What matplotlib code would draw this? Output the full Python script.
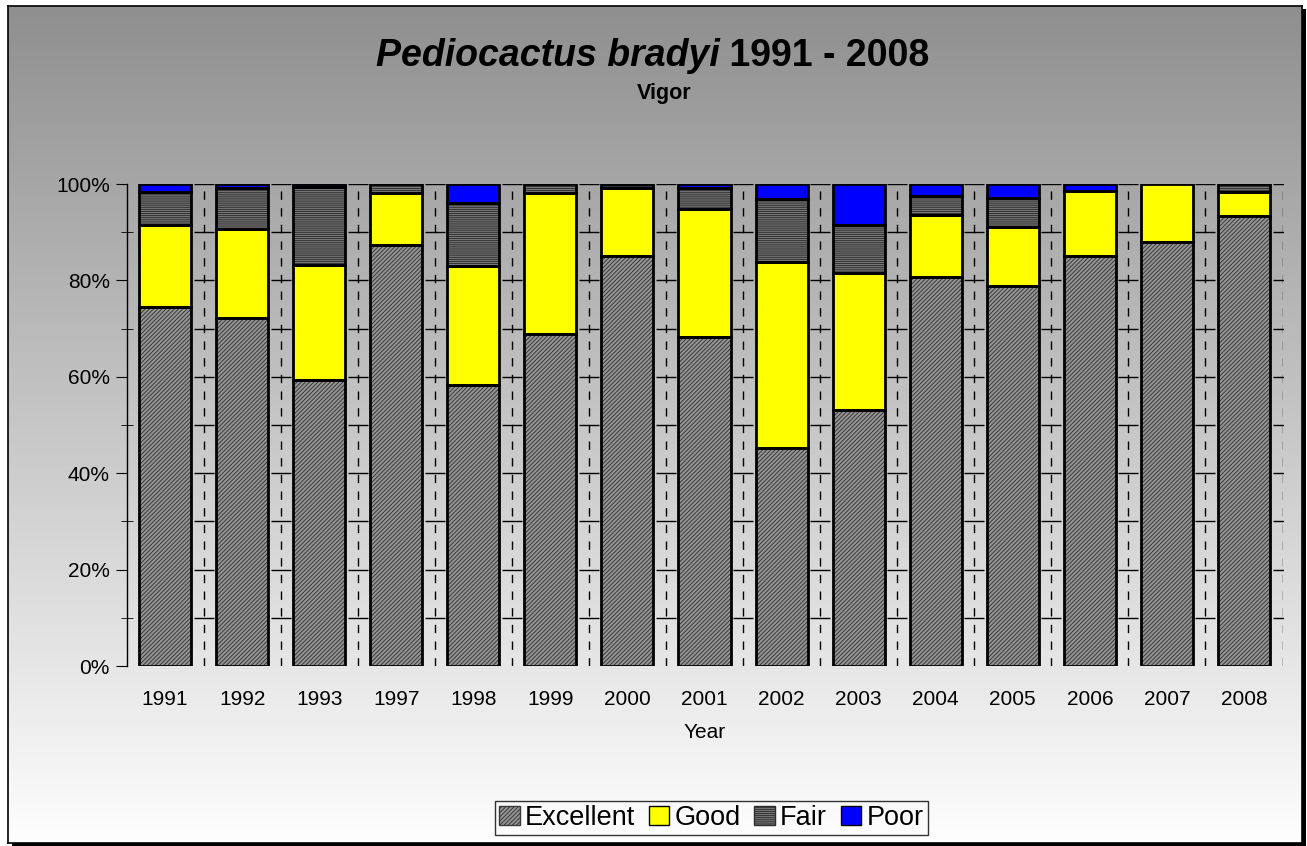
import numpy as np
import matplotlib
matplotlib.use("Agg")
import matplotlib.pyplot as plt
from matplotlib.patches import Rectangle, Patch

# data (percent of plants per vigor class)
years = ["1991", "1992", "1993", "1997", "1998", "1999", "2000", "2001",
         "2002", "2003", "2004", "2005", "2006", "2007", "2008"]
excellent = [74.5, 72.3, 59.3, 87.3, 58.4, 68.8, 85.0, 68.2, 45.3, 53.2, 80.8, 78.9, 85.1, 87.9, 93.4]
good = [17.0, 18.3, 23.9, 10.8, 24.6, 29.3, 14.1, 26.6, 38.5, 28.3, 12.8, 12.1, 13.5, 12.1, 5.0]
fair = [6.8, 8.6, 16.1, 1.9, 13.0, 1.9, 0.8, 4.4, 13.1, 10.0, 3.9, 6.1, 0.0, 0.0, 1.6]
poor = [1.7, 0.8, 0.7, 0.0, 4.0, 0.0, 0.1, 0.8, 3.1, 8.5, 2.5, 2.9, 1.4, 0.0, 0.0]

plt.rcParams["font.family"] = ["Liberation Sans", "DejaVu Sans"]
plt.rcParams["hatch.linewidth"] = 0.7

W, H = 1307, 846
fig = plt.figure(figsize=(W / 100, H / 100), dpi=100, facecolor="white")

# shadow + gradient background inside the chart frame
fig.patches.append(Rectangle((12 / W, 0), 1294 / W, 837 / H, transform=fig.transFigure,
                             facecolor="black", edgecolor="none", zorder=-10))
bg = fig.add_axes([8 / W, 3 / H, 1294 / W, 837 / H], zorder=-5)
grad = np.linspace(0, 1, 256).reshape(-1, 1)
bg.imshow(grad, aspect="auto", extent=[0, 1, 0, 1],
          cmap=matplotlib.colors.LinearSegmentedColormap.from_list("g", ["#8f8f8f", "#fefefe"]))
bg.set_xlim(0, 1)
bg.set_ylim(0, 1)
bg.set_xticks([])
bg.set_yticks([])
for s in bg.spines.values():
    s.set_linewidth(1.2)
    s.set_color("black")

ax = fig.add_axes([126.5 / W, 1 - 666 / H, 1156 / W, 482 / H])
ax.patch.set_alpha(0)

x = np.arange(len(years))
w = 0.675
b1 = np.array(excellent)
b2 = b1 + np.array(good)
b3 = b2 + np.array(fair)

exc_style = dict(facecolor="#959595", hatch="////////", edgecolor="#3a3a3a", lw=0)
fair_style = dict(facecolor="#7a7a7a", hatch="--------", edgecolor="#2e2e2e", lw=0)

ax.bar(x, excellent, w, zorder=3, **exc_style)
ax.bar(x, good, w, bottom=b1, color="#ffff00", zorder=3)
ax.bar(x, fair, w, bottom=b2, zorder=3, **fair_style)
ax.bar(x, poor, w, bottom=b3, color="#0000ff", zorder=3)
# outlines
for vals, bot in [(excellent, 0), (good, b1), (fair, b2), (poor, b3)]:
    v = np.array(vals)
    m = v > 0
    ax.bar(x[m], v[m], w, bottom=(np.zeros_like(v) + bot)[m], fill=False, edgecolor="black", lw=2, zorder=4)

# dashed category dividers with small cross ticks
bounds = np.append(np.arange(len(years) - 1) + 0.5, len(years) - 0.5)
ax.vlines(bounds, 0, 100, colors="black", linestyles=(0, (6, 6)), lw=1, zorder=1)
for bx in bounds:
    ax.plot([bx] * 10, np.arange(10, 101, 10), ls="none", marker="_", ms=14, mew=1, color="black", zorder=1)

ax.set_xlim(-0.5, len(years) - 0.5)
ax.set_ylim(0, 100)
ax.set_xticks(x)
ax.set_xticklabels(years, fontsize=15)
ax.tick_params(axis="x", length=0, pad=17)
ax.set_yticks(np.arange(0, 101, 20))
ax.set_yticklabels([f"{v}%" for v in range(0, 101, 20)], fontsize=15)
ax.set_yticks(np.arange(10, 100, 20), minor=True)
ax.tick_params(axis="y", which="major", direction="out", length=8, pad=4)
ax.tick_params(axis="y", which="minor", direction="inout", length=9)
for s in ["top", "right", "bottom"]:
    ax.spines[s].set_visible(False)
ax.spines["left"].set_linewidth(1)
ax.set_xlabel("Year", fontsize=15, labelpad=10)

t1 = fig.text(0.5, 1 - 56 / H, "Pediocactus bradyi", fontsize=27, fontweight="bold",
              fontstyle="italic", ha="right", va="center")
t2 = fig.text(0.5, 1 - 56 / H, " 1991 - 2008", fontsize=27, fontweight="bold", ha="left", va="center")
fig.text(664 / W, 1 - 93 / H, "Vigor", fontsize=15.5, fontweight="bold", ha="center", va="center")

# center the two-part title
fig.canvas.draw()
r = fig.canvas.get_renderer()
wa = t1.get_window_extent(r).width
wb = t2.get_window_extent(r).width
cx = 652.5 / W + (wa - wb) / 2 / W
t1.set_x(cx)
t2.set_x(cx)

handles = [Patch(label="Excellent", **exc_style),
           Patch(facecolor="#ffff00", edgecolor="black", label="Good"),
           Patch(label="Fair", **fair_style),
           Patch(facecolor="#0000ff", edgecolor="black", label="Poor")]
for h in handles:
    h.set_linewidth(1)
leg = fig.legend(handles=handles, loc="center", bbox_to_anchor=(711.5 / W, 1 - 818 / H),
                 ncol=4, fontsize=19.5, frameon=True, fancybox=False, handlelength=0.75, handleheight=0.75,
                 handletextpad=0.2, columnspacing=0.5, borderpad=0.15, borderaxespad=0)
leg.get_frame().set_edgecolor("black")
leg.get_frame().set_facecolor("none")
leg.get_frame().set_linewidth(1)

fig.savefig("out.png", dpi=100, facecolor="white")
